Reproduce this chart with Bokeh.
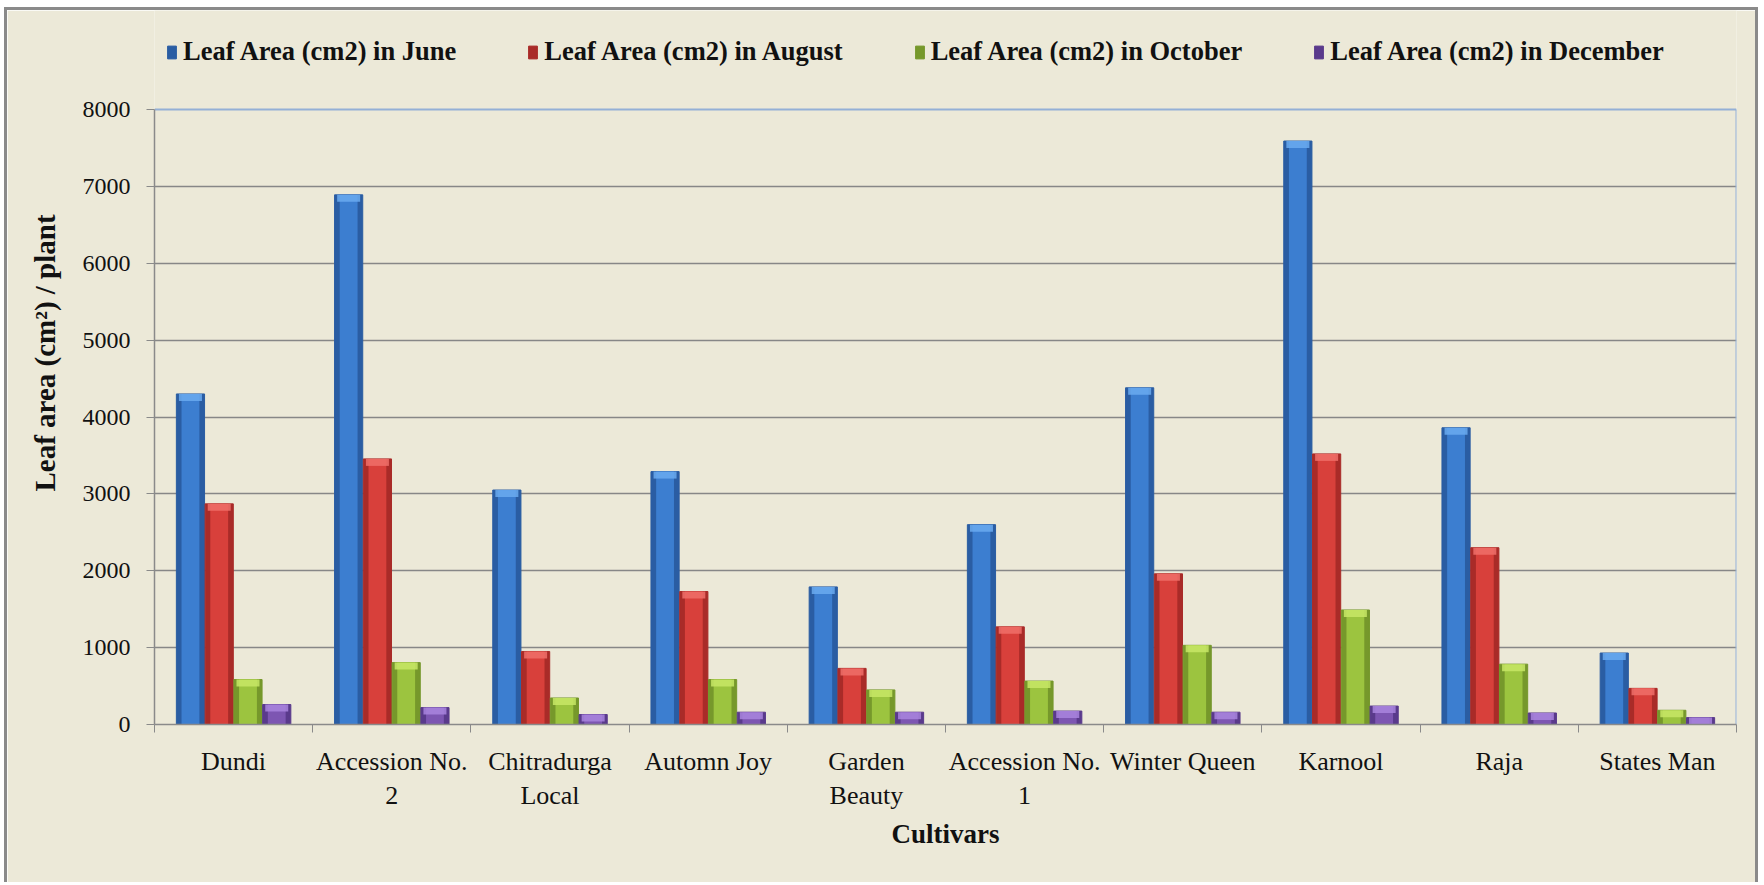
from bokeh.plotting import figure
from bokeh.models import Range1d, FixedTicker, Legend, LegendItem, ColumnDataSource
from bokeh.embed import file_html
from bokeh.resources import INLINE

# Leaf area per plant (cm2) for each cultivar, sampled in four months
cultivars = ["Dundi", "Accession No. 2", "Chitradurga Local", "Automn Joy",
             "Garden Beauty", "Accession No. 1", "Winter Queen", "Karnool",
             "Raja", "States Man"]
tick_labels = ["Dundi", "Accession No.\n2", "Chitradurga\nLocal", "Automn Joy",
               "Garden\nBeauty", "Accession No.\n1", "Winter Queen", "Karnool",
               "Raja", "States Man"]
june = [4300, 6890, 3050, 3290, 1790, 2600, 4380, 7590, 3860, 930]
august = [2870, 3455, 950, 1730, 730, 1270, 1960, 3520, 2300, 470]
october = [585, 805, 345, 585, 450, 565, 1030, 1490, 785, 185]
december = [260, 220, 130, 160, 160, 175, 160, 240, 150, 90]
y_ticks = list(range(0, 8001, 1000))

series_names = ["Leaf Area (cm2) in June", "Leaf Area (cm2) in August",
                "Leaf Area (cm2) in October", "Leaf Area (cm2) in December"]
series_values = [june, august, october, december]

# (edge, body, highlight) colours for each series
palettes = [("#2A5DA3", "#3C7ED0", "#6AAAF0"),
            ("#A92B28", "#D8403B", "#F0706A"),
            ("#76982B", "#9CC43F", "#C8E866"),
            ("#5A3A8C", "#7D56B2", "#A985DE")]

BG = "#ECE9D8"
FONT = "Liberation Serif"
AXIS_GREY = "#8A8A8A"
BORDER_BLUE = "#94B0D6"

# canvas geometry (inside the grey page frame)
W, H = 1754, 875
BORDER_L, BORDER_R, BORDER_B = 147, 25, 161
PLOT_TOP = 99                      # top of the 0..8000 plot area on the canvas
frame_h = H - BORDER_B             # frame reaches the canvas top so the legend fits in it
y_max = y_ticks[-1]
y_end = y_max * frame_h / (frame_h - PLOT_TOP)

p = figure(width=W, height=H, output_backend="svg", toolbar_location=None,
           x_range=Range1d(0, len(cultivars)), y_range=Range1d(0, y_end),
           min_border_left=BORDER_L, min_border_right=BORDER_R, min_border_top=0,
           min_border_bottom=BORDER_B)
p.styles = {"margin-left": "4px", "margin-top": "7px",
            "border-left": "3px solid #8A8A8A", "border-top": "3px solid #8A8A8A",
            "border-right": "3px solid #8A8A8A"}
p.border_fill_color = BG
p.background_fill_color = BG
p.outline_line_color = None

# horizontal grid lines
p.ygrid.ticker = FixedTicker(ticks=y_ticks[1:-1])
p.ygrid.grid_line_color = "#878787"
p.ygrid.grid_line_width = 1.5
p.xgrid.grid_line_color = None

# plot-area border: top and right edges
n_cat = len(cultivars)
p.segment(x0=[0, n_cat], y0=[y_max, 0], x1=[n_cat, n_cat], y1=[y_max, y_max],
          line_color=BORDER_BLUE, line_width=2)

n_series = len(series_values)
slot = 1.0 / (n_series + 1.5)          # gap of 150% of a bar between groups
bar_w = slot
centers = [i + 0.5 for i in range(n_cat)]
units_per_px = y_end / frame_h
cap = 7 * units_per_px

legend_items = []
for k, (name, vals, (edge, body, light)) in enumerate(zip(series_names, series_values, palettes)):
    xs = [c + (k - (n_series - 1) / 2) * slot for c in centers]
    src = ColumnDataSource(dict(x=xs, top=vals,
                                cap_bottom=[max(v - cap, 0) for v in vals]))
    r = p.vbar(x="x", top="top", bottom=0, width=bar_w * 0.98, source=src,
               fill_color=edge, line_color=edge, line_width=1)
    p.vbar(x="x", top="top", bottom=0, width=bar_w * 0.62, source=src,
           fill_color=body, line_color=None)
    p.vbar(x="x", top="top", bottom="cap_bottom", width=bar_w * 0.80, source=src,
           fill_color=light, line_color=None, fill_alpha=0.85)
    legend_items.append(LegendItem(label=name, renderers=[r]))

# y axis, drawn only over 0..8000
NB = "\u00a0"
p.yaxis.bounds = (0, y_max)
p.yaxis.ticker = FixedTicker(ticks=y_ticks)
p.yaxis.axis_label = NB * 4 + "Leaf area (cm²) / plant"
p.yaxis.axis_label_text_font = FONT
p.yaxis.axis_label_text_font_style = "bold"
p.yaxis.axis_label_text_font_size = "29px"
p.yaxis.axis_label_text_color = "#111111"
p.yaxis.axis_label_standoff = 19
p.yaxis.major_label_text_font = FONT
p.yaxis.major_label_text_font_size = "24px"
p.yaxis.major_label_text_color = "#111111"
p.yaxis.major_label_standoff = 16
p.yaxis.major_tick_out = 8
p.yaxis.major_tick_in = 0
p.yaxis.minor_tick_line_color = None
p.yaxis.axis_line_color = AXIS_GREY
p.yaxis.axis_line_width = 1.5
p.yaxis.major_tick_line_color = AXIS_GREY

# x axis: labels at group centres, ticks at group boundaries
p.xaxis.ticker = FixedTicker(ticks=centers, minor_ticks=list(range(n_cat + 1)))
p.xaxis.major_label_overrides = {c: lab for c, lab in zip(centers, tick_labels)}
p.xaxis.major_tick_in = 0
p.xaxis.major_tick_out = 0
p.xaxis.minor_tick_in = 0
p.xaxis.minor_tick_out = 8
p.xaxis.minor_tick_line_color = AXIS_GREY
p.xaxis.axis_line_color = AXIS_GREY
p.xaxis.axis_line_width = 1.5
p.xaxis.major_label_text_font = FONT
p.xaxis.major_label_text_font_size = "26px"
p.xaxis.major_label_text_color = "#111111"
p.xaxis.major_label_standoff = 14
p.xaxis.axis_label = "Cultivars"
p.xaxis.axis_label_text_font = FONT
p.xaxis.axis_label_text_font_style = "bold"
p.xaxis.axis_label_text_font_size = "27px"
p.xaxis.axis_label_text_color = "#111111"
p.xaxis.axis_label_standoff = 6

# legend row across the top of the chart
legend = Legend(items=legend_items, orientation="horizontal",
                location=(12, frame_h - 27 - 30), background_fill_alpha=0,
                border_line_alpha=0, padding=0, margin=0, spacing=71,
                label_standoff=6, glyph_width=11, glyph_height=16,
                label_text_font=FONT, label_text_font_style="bold",
                label_text_font_size="26.5px", label_text_color="#111111")
p.add_layout(legend, "center")

open("out.html", "w").write(file_html(p, INLINE))
